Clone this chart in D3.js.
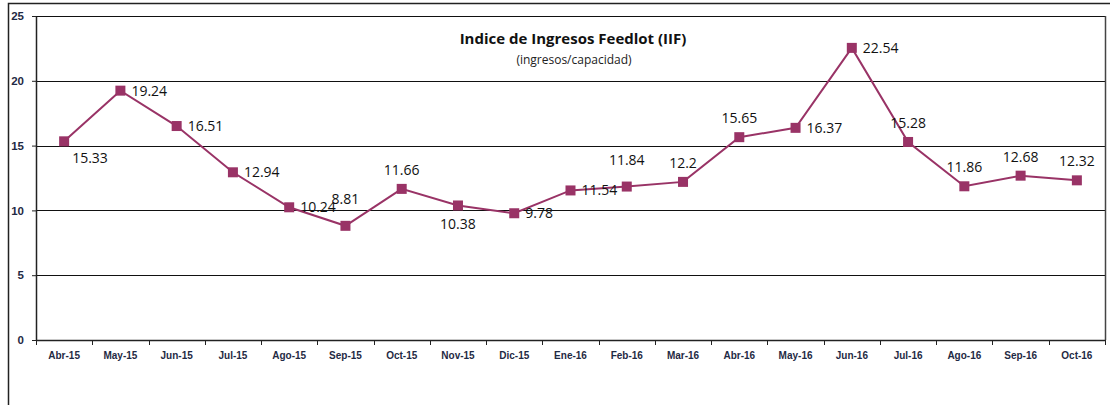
<!DOCTYPE html>
<html>
<head>
<meta charset="utf-8">
<script src="https://cdn.jsdelivr.net/npm/d3@7"></script>
<style>
  body { margin: 0; background: #fff; }
  svg { display: block; font-family: "Open Sans", Lato, sans-serif; }
  .xaxis text { font-size: 10px; font-weight: 600; fill: #1f2a44; }
  .yaxis text { font-size: 11.5px; font-weight: 600; fill: #1f2a44; }
</style>
</head>
<body>
<div id="chart-area"></div>
<script>
var months = ["Abr-15","May-15","Jun-15","Jul-15","Ago-15","Sep-15","Oct-15","Nov-15","Dic-15",
              "Ene-16","Feb-16","Mar-16","Abr-16","May-16","Jun-16","Jul-16","Ago-16","Sep-16","Oct-16"];
var iif = [15.33,19.24,16.51,12.94,10.24,8.81,11.66,10.38,9.78,
           11.54,11.84,12.2,15.65,16.37,22.54,15.28,11.86,12.68,12.32];
var yTicks = [0,5,10,15,20,25];
var labelPos = ["belowright","right","right","right","right","abovehigh","above","below","right",
                "right","abovehigh","above","above","right","right","above","above","above","above"];

var width = 1110, height = 405;
var margin = {left:36, right:5, top:16, bottom:65};

var svg = d3.select("#chart-area")
    .append("svg")
    .attr("width", width)
    .attr("height", height);

// outer frame
svg.append("path")
    .attr("d", "M8.5," + height + "V3.5H" + width)
    .attr("fill", "none")
    .attr("stroke", "#222")
    .attr("stroke-width", 1.5);

var x = d3.scaleBand()
    .domain(months)
    .range([margin.left, width - margin.right]);

var y = d3.scaleLinear()
    .domain([0, 25])
    .range([height - margin.bottom, margin.top]);

// gridlines
svg.append("g")
    .selectAll("line")
    .data(yTicks.slice(1))
    .enter()
    .append("line")
    .attr("x1", margin.left)
    .attr("x2", width - margin.right)
    .attr("y1", function(d){ return Math.round(y(d)) + 0.5; })
    .attr("y2", function(d){ return Math.round(y(d)) + 0.5; })
    .attr("stroke", "#111")
    .attr("stroke-width", 1);

// right edge of plot
svg.append("line")
    .attr("x1", width - margin.right + 0.5)
    .attr("x2", width - margin.right + 0.5)
    .attr("y1", y(25))
    .attr("y2", y(0))
    .attr("stroke", "#444")
    .attr("stroke-width", 1.5);

var yAxisCall = d3.axisLeft(y)
    .tickValues(yTicks)
    .tickSize(4)
    .tickSizeOuter(0)
    .tickPadding(8);
svg.append("g")
    .attr("class", "yaxis")
    .attr("transform", "translate(" + margin.left + ",0)")
    .call(yAxisCall);

var xAxisCall = d3.axisBottom(x)
    .tickSize(0)
    .tickPadding(12);
var xg = svg.append("g")
    .attr("class", "xaxis")
    .attr("transform", "translate(0," + y(0) + ")")
    .call(xAxisCall);

// tick marks between categories
xg.selectAll(".sep")
    .data(months.concat(["end"]))
    .enter()
    .append("line")
    .attr("class", "sep")
    .attr("x1", function(d, i){ return Math.round(margin.left + i * x.step()) + 0.5; })
    .attr("x2", function(d, i){ return Math.round(margin.left + i * x.step()) + 0.5; })
    .attr("y1", 0)
    .attr("y2", 5)
    .attr("stroke", "#222");

svg.selectAll(".domain").attr("stroke", "#222").attr("stroke-width", 1.5);
svg.selectAll(".yaxis .tick line").attr("stroke", "#222");

// line
var line = d3.line()
    .x(function(d, i){ return x(months[i]) + x.bandwidth() / 2; })
    .y(function(d){ return y(d); });

svg.append("path")
    .datum(iif)
    .attr("d", line)
    .attr("fill", "none")
    .attr("stroke", "#993366")
    .attr("stroke-width", 2);

svg.selectAll(".marker")
    .data(iif)
    .enter()
    .append("rect")
    .attr("class", "marker")
    .attr("x", function(d, i){ return x(months[i]) + x.bandwidth() / 2 - 5; })
    .attr("y", function(d){ return y(d) - 5; })
    .attr("width", 10)
    .attr("height", 10)
    .attr("fill", "#993366");

// data labels
svg.selectAll(".dlabel")
    .data(iif)
    .enter()
    .append("text")
    .attr("class", "dlabel")
    .attr("font-size", "14px")
    .attr("fill", "#111")
    .attr("x", function(d, i){
        var cx = x(months[i]) + x.bandwidth() / 2;
        var p = labelPos[i];
        if (p == "right") return cx + 11;
        if (p == "belowright") return cx + 8;
        return cx;
    })
    .attr("y", function(d, i){
        var cy = y(d);
        var p = labelPos[i];
        if (p == "above") return cy - 14;
        if (p == "abovehigh") return cy - 22;
        if (p == "below") return cy + 24;
        if (p == "belowright") return cy + 22;
        return cy + 5;
    })
    .attr("text-anchor", function(d, i){
        var p = labelPos[i];
        return (p == "right" || p == "belowright") ? "start" : "middle";
    })
    .text(function(d){ return d; });

// title
svg.append("text")
    .attr("x", 573)
    .attr("y", 44)
    .attr("text-anchor", "middle")
    .attr("font-size", "15px")
    .attr("font-weight", "bold")
    .attr("fill", "#111")
    .text("Indice de Ingresos Feedlot (IIF)");

svg.append("text")
    .attr("x", 574)
    .attr("y", 64)
    .attr("text-anchor", "middle")
    .attr("font-size", "12px")
    .attr("fill", "#222")
    .text("(ingresos/capacidad)");
</script>
</body>
</html>
